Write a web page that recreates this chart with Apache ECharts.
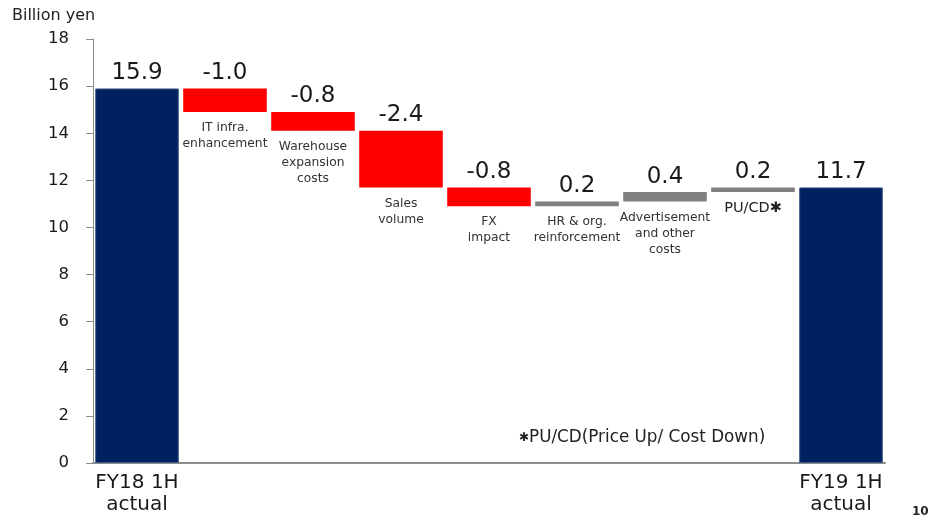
<!DOCTYPE html>
<html>
<head>
<meta charset="utf-8">
<script src="https://cdn.jsdelivr.net/npm/echarts@6/dist/echarts.min.js"></script>
<style>
  html, body { margin: 0; padding: 0; background: #fff; }
  #chart { width: 928px; height: 516px; }
</style>
</head>
<body>
<div id="chart"></div>
<script>
// Operating profit bridge, FY18 1H -> FY19 1H (billion yen)
const categories = [
  'FY18 1H\nactual',
  'IT infra.\nenhancement',
  'Warehouse\nexpansion\ncosts',
  'Sales\nvolume',
  'FX\nimpact',
  'HR & org.\nreinforcement',
  'Advertisement\nand other\ncosts',
  'PU/CD\u2731',
  'FY19 1H\nactual'
];
const startValue = 15.9;
const changes = [-1.0, -0.8, -2.4, -0.8, 0.2, 0.4, 0.2];
const endValue = 11.7;
const yTicks = [0, 2, 4, 6, 8, 10, 12, 14, 16, 18];

const FONT = '"DejaVu Sans", "Noto Sans", sans-serif';
const NAVY = '#002060', RED = '#FF0000', GREY = '#808080';

// Build invisible bases and visible segments for the waterfall
const baseData = [0];
const barData = [startValue];
const signed = [startValue];
let running = startValue;
changes.forEach(function (d) {
  const next = Math.round((running + d) * 10) / 10;
  baseData.push(Math.min(running, next));
  barData.push(Math.abs(d));
  signed.push(d);
  running = next;
});
baseData.push(0);
barData.push(endValue);
signed.push(endValue);

const lastIdx = categories.length - 1;
const isTotal = function (i) { return i === 0 || i === lastIdx; };

const chart = echarts.init(document.getElementById('chart'));
chart.setOption({
  animation: false,
  textStyle: { fontFamily: FONT },
  grid: { left: 93, right: 43, top: 39, bottom: 49 },
  xAxis: {
    type: 'category',
    data: categories,
    axisLine: { lineStyle: { color: '#8c8c8c', width: 2 } },
    axisTick: { show: false },
    axisLabel: {
      interval: 0,
      margin: 9,
      fontSize: 20,
      lineHeight: 22,
      color: '#1a1a1a',
      fontFamily: FONT,
      formatter: function (v, i) { return isTotal(i) ? v : ''; }
    }
  },
  yAxis: {
    type: 'value',
    min: yTicks[0],
    max: yTicks[yTicks.length - 1],
    interval: 2,
    axisLine: { show: true, lineStyle: { color: '#8c8c8c', width: 1 } },
    axisTick: { show: true, length: 7, lineStyle: { color: '#8c8c8c' } },
    splitLine: { show: false },
    axisLabel: { margin: 24, fontSize: 16.5, color: '#1a1a1a', fontFamily: FONT }
  },
  series: [
    {
      type: 'bar',
      stack: 'bridge',
      data: baseData,
      barCategoryGap: '5%',
      itemStyle: { color: 'rgba(0,0,0,0)' },
      label: {
        show: true,
        position: 'insideTop',
        distance: 8,
        fontSize: 12.3,
        lineHeight: 16,
        color: '#333',
        fontFamily: FONT,
        formatter: function (p) {
          if (isTotal(p.dataIndex)) return '';
          return p.dataIndex === 7 ? '{big|' + p.name + '}' : p.name;
        },
        rich: { big: { fontSize: 14.5, color: '#222', fontFamily: FONT } }
      },
      emphasis: { disabled: true }
    },
    {
      type: 'bar',
      stack: 'bridge',
      data: barData.map(function (v, i) {
        return {
          value: v,
          itemStyle: {
            color: isTotal(i) ? NAVY : (signed[i] < 0 ? RED : GREY),
            borderColor: isTotal(i) ? '#3d5a8a' : 'rgba(0,0,0,0)',
            borderWidth: isTotal(i) ? 1 : 0
          }
        };
      }),
      barCategoryGap: '5%',
      label: {
        show: true,
        position: 'top',
        distance: 4,
        fontSize: 23,
        color: '#1a1a1a',
        fontFamily: FONT,
        formatter: function (p) { return signed[p.dataIndex].toFixed(1); }
      },
      emphasis: { disabled: true }
    }
  ],
  graphic: [
    {
      type: 'text', left: 12, top: 8,
      style: { text: 'Billion yen', fontSize: 16, fill: '#222', fontFamily: FONT }
    },
    {
      type: 'text', left: 519, top: 429,
      style: {
        text: '{a|\u2731}{b|PU/CD(Price Up/ Cost Down)}',
        rich: {
          a: { fontSize: 12, fill: '#222', fontFamily: 'DejaVu Sans' },
          b: { fontSize: 16.8, fill: '#222', fontFamily: FONT }
        }
      }
    },
    {
      type: 'text', left: 912, top: 506,
      style: { text: '10', fontSize: 12, fontWeight: 'bold', fill: '#222', fontFamily: FONT }
    }
  ]
});
</script>
</body>
</html>
